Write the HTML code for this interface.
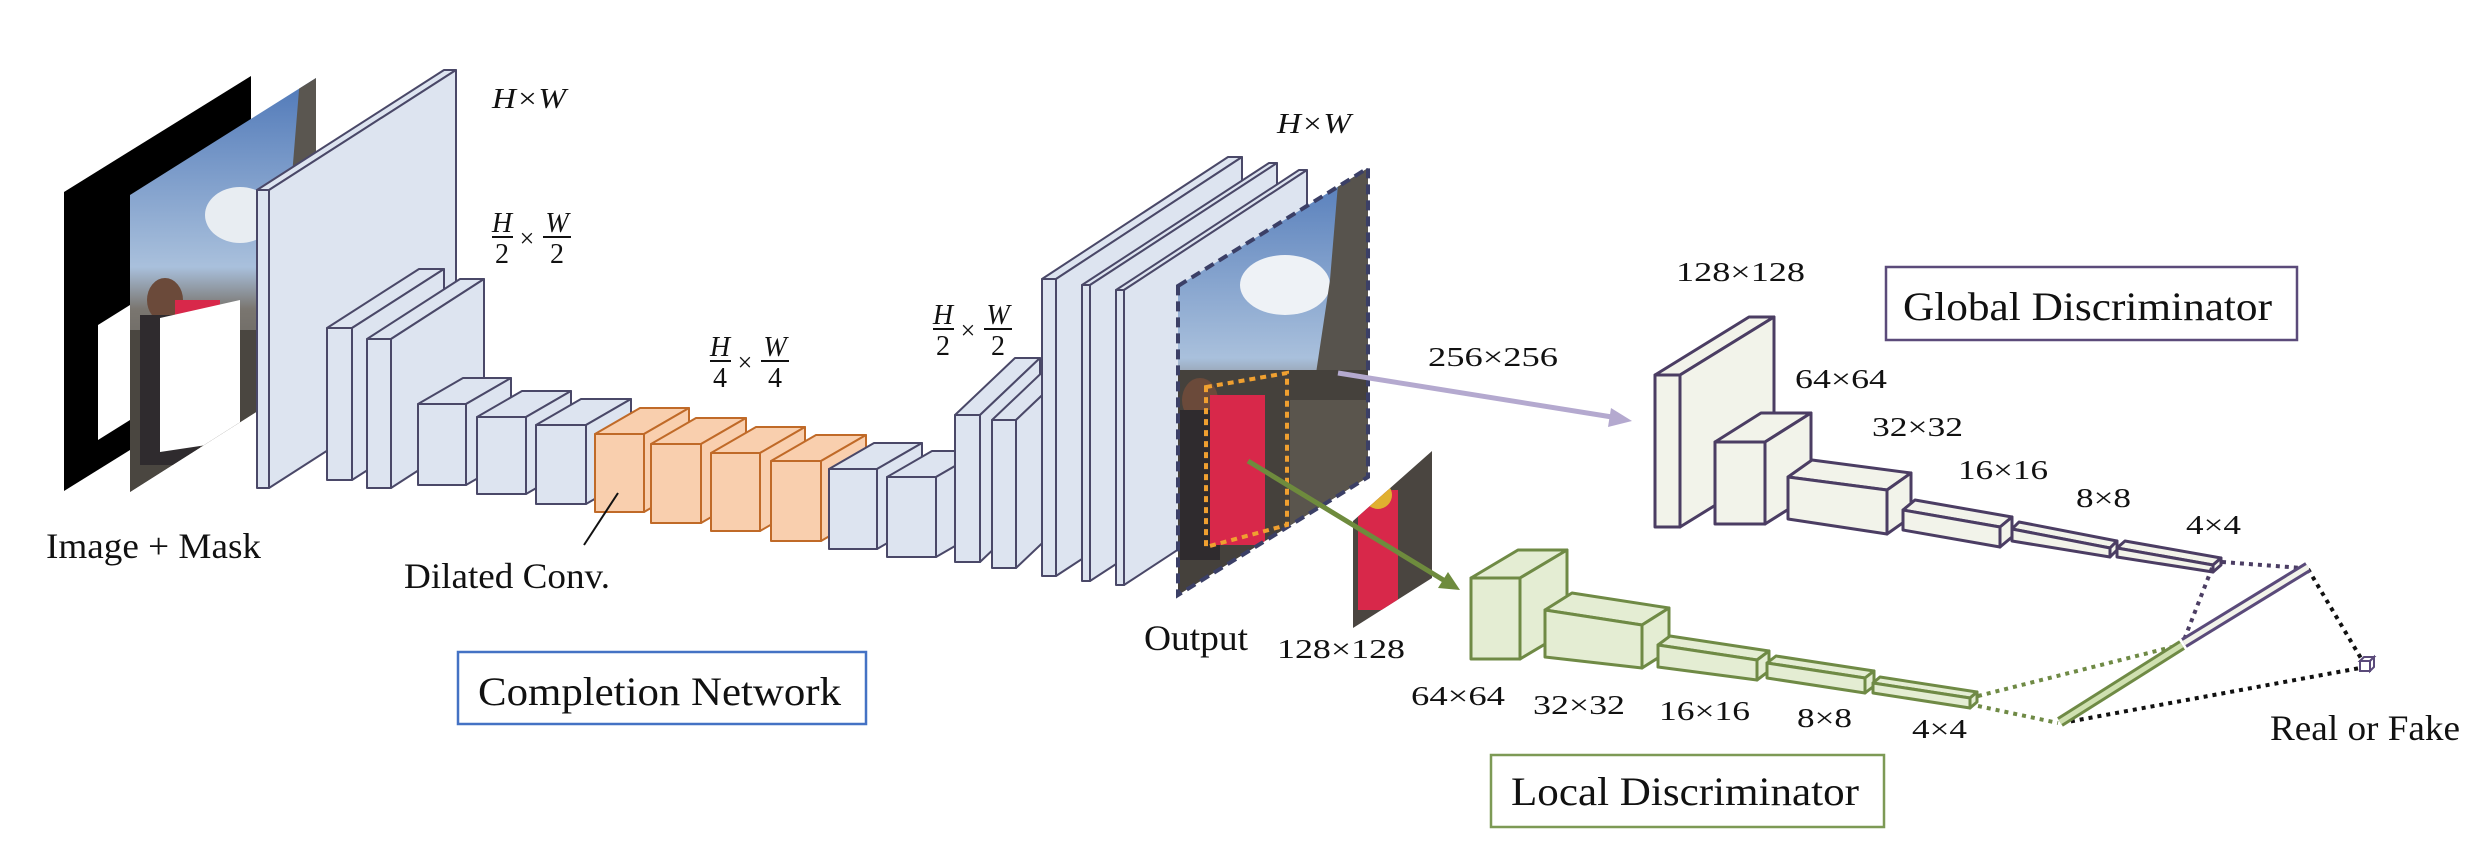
<!DOCTYPE html>
<html><head><meta charset="utf-8"><style>
html,body{margin:0;padding:0;background:#fff;}
svg{display:block;}
text{font-family:"Liberation Serif",serif;fill:#111;}
</style></head><body>
<svg width="2492" height="850" viewBox="0 0 2492 850" xmlns="http://www.w3.org/2000/svg">
<defs>
<linearGradient id="sky" x1="0" y1="0" x2="0" y2="1">
<stop offset="0" stop-color="#4f78b8"/><stop offset="0.45" stop-color="#a9c0dc"/><stop offset="0.55" stop-color="#7a7670"/><stop offset="1" stop-color="#3d3a36"/>
</linearGradient>
<clipPath id="p1"><polygon points="130,195 316,78 316,374 130,492"/></clipPath>
<clipPath id="p2"><polygon points="1178,286 1368,168 1368,477 1178,595"/></clipPath>
<clipPath id="p3"><polygon points="1353,521 1432,451 1432,578 1353,628"/></clipPath>
</defs>

<polygon points="64,192 251,76 251,375 64,491" fill="#000"/>
<polygon points="98,325 130,305 130,420 98,440" fill="#fff"/>
<g clip-path="url(#p1)">
<rect x="130" y="78" width="190" height="420" fill="url(#sky)"/>
<ellipse cx="240" cy="215" rx="35" ry="28" fill="#e8edf2"/>
<polygon points="300,78 316,78 316,380 270,380 290,200" fill="#5a5650"/>
<rect x="130" y="330" width="190" height="170" fill="#4a4640"/>
<ellipse cx="165" cy="300" rx="18" ry="22" fill="#6b4a3a"/>
<rect x="140" y="315" width="60" height="150" fill="#2f2b2e"/>
<rect x="175" y="300" width="45" height="110" fill="#d8284a"/>
<polygon points="160,318 240,300 240,440 160,452" fill="#fff"/>
</g>

<g stroke="#4a4868" stroke-width="2" fill="#dde4f0" stroke-linejoin="round">
<polygon points="257,190 444,70 456,70 269,190"/><polygon points="269,190 456,70 456,368 269,488"/><rect x="257" y="190" width="12" height="298"/>
<polygon points="327,328 419,269 444,269 352,328"/><polygon points="352,328 444,269 444,421 352,480"/><rect x="327" y="328" width="25" height="152"/>
<polygon points="367,339 460,279 484,279 391,339"/><polygon points="391,339 484,279 484,428 391,488"/><rect x="367" y="339" width="24" height="149"/>
<polygon points="418,404 463,378 511,378 466,404"/><polygon points="466,404 511,378 511,459 466,485"/><rect x="418" y="404" width="48" height="81"/>
<polygon points="477,417 522,391 571,391 526,417"/><polygon points="526,417 571,391 571,468 526,494"/><rect x="477" y="417" width="49" height="77"/>
<polygon points="536,425 581,399 631,399 586,425"/><polygon points="586,425 631,399 631,478 586,504"/><rect x="536" y="425" width="50" height="79"/>
</g>
<g stroke="#c06a28" stroke-width="2" fill="#f9cfae" stroke-linejoin="round">
<polygon points="595,434 640,408 689,408 644,434"/><polygon points="644,434 689,408 689,486 644,512"/><rect x="595" y="434" width="49" height="78"/>
<polygon points="651,444 696,418 746,418 701,444"/><polygon points="701,444 746,418 746,497 701,523"/><rect x="651" y="444" width="50" height="79"/>
<polygon points="711,453 756,427 805,427 760,453"/><polygon points="760,453 805,427 805,505 760,531"/><rect x="711" y="453" width="49" height="78"/>
<polygon points="771,461 816,435 866,435 821,461"/><polygon points="821,461 866,435 866,515 821,541"/><rect x="771" y="461" width="50" height="80"/>
</g>
<g stroke="#4a4868" stroke-width="2" fill="#dde4f0" stroke-linejoin="round">
<polygon points="829,469 874,443 922,443 877,469"/><polygon points="877,469 922,443 922,523 877,549"/><rect x="829" y="469" width="48" height="80"/>
<polygon points="887,477 932,451 981,451 936,477"/><polygon points="936,477 981,451 981,531 936,557"/><rect x="887" y="477" width="49" height="80"/>
<polygon points="955,415 1015,358 1040,358 980,415"/><polygon points="980,415 1040,358 1040,505 980,562"/><rect x="955" y="415" width="25" height="147"/>
<polygon points="992,420 1052,363 1076,363 1016,420"/><polygon points="1016,420 1076,363 1076,511 1016,568"/><rect x="992" y="420" width="24" height="148"/>
<polygon points="1042,279 1228,157 1242,157 1056,279"/><polygon points="1056,279 1242,157 1242,454 1056,576"/><rect x="1042" y="279" width="14" height="297"/>
<polygon points="1082,285 1269,163 1277,163 1090,285"/><polygon points="1090,285 1277,163 1277,459 1090,581"/><rect x="1082" y="285" width="8" height="296"/>
<polygon points="1116,290 1299,170 1307,170 1124,290"/><polygon points="1124,290 1307,170 1307,465 1124,585"/><rect x="1116" y="290" width="8" height="295"/>
</g>

<g clip-path="url(#p2)">
<rect x="1178" y="160" width="200" height="440" fill="url(#sky)"/>
<ellipse cx="1285" cy="285" rx="45" ry="30" fill="#eef2f6"/>
<polygon points="1340,160 1370,160 1370,480 1300,480 1330,280" fill="#57534d"/>
<rect x="1178" y="370" width="200" height="230" fill="#45413c"/>
<rect x="1290" y="400" width="80" height="200" fill="#5a554d"/>
<ellipse cx="1200" cy="400" rx="18" ry="22" fill="#6b4a3a"/>
<rect x="1180" y="410" width="40" height="150" fill="#2f2b2e"/>
<rect x="1210" y="395" width="55" height="150" fill="#d8284a"/>
</g>
<polygon points="1178,286 1368,168 1368,477 1178,595" fill="none" stroke="#3b3f66" stroke-width="4" stroke-dasharray="10 6"/>
<polygon points="1206,387 1287,373 1287,525 1206,547" fill="none" stroke="#f0a030" stroke-width="4" stroke-dasharray="6 5"/>

<g clip-path="url(#p3)">
<rect x="1353" y="450" width="80" height="180" fill="#4a4540"/>
<rect x="1358" y="490" width="40" height="120" fill="#d8284a"/>
<ellipse cx="1378" cy="495" rx="14" ry="14" fill="#e0b030"/>
</g>

<line x1="1338" y1="373" x2="1612" y2="417" stroke="#b4a9cf" stroke-width="5"/>
<polygon points="1632,421 1611,408 1608,427" fill="#b4a9cf"/>
<line x1="1248" y1="461" x2="1445" y2="581" stroke="#6e8b3d" stroke-width="5"/>
<polygon points="1460,590 1438,588 1448,572" fill="#6e8b3d"/>

<g stroke="#4b3d63" stroke-width="3" fill="#f2f3ea" stroke-linejoin="round">
<polygon points="1655,375 1749,317 1774,317 1680,375"/><polygon points="1680,375 1774,317 1774,469 1680,527"/><rect x="1655" y="375" width="25" height="152"/>
<polygon points="1715,442 1761,413 1811,413 1765,442"/><polygon points="1765,442 1811,413 1811,495 1765,524"/><rect x="1715" y="442" width="50" height="82"/>
<polygon points="1788,477 1812,460 1911,473 1887,490"/><polygon points="1887,490 1911,473 1911,517 1887,534"/><polygon points="1788,477 1887,490 1887,534 1788,519"/>
<polygon points="1903,510 1915,500 2012,517 2000,527"/><polygon points="2000,527 2012,517 2012,537 2000,547"/><polygon points="1903,510 2000,527 2000,547 1903,530"/>
<polygon points="2012,529 2019,522 2117,541 2110,548"/><polygon points="2110,548 2117,541 2117,550 2110,557"/><polygon points="2012,529 2110,548 2110,557 2012,541"/>
<polygon points="2117,548 2125,541 2221,558 2213,565"/><polygon points="2213,565 2221,558 2221,565 2213,572"/><polygon points="2117,548 2213,565 2213,572 2117,557"/>
</g>
<g stroke="#6f8a45" stroke-width="3" fill="#e4edd3" stroke-linejoin="round">
<polygon points="1471,578 1518,550 1567,550 1520,578"/><polygon points="1520,578 1567,550 1567,631 1520,659"/><rect x="1471" y="578" width="49" height="81"/>
<polygon points="1545,610 1572,593 1669,608 1642,625"/><polygon points="1642,625 1669,608 1669,651 1642,668"/><polygon points="1545,610 1642,625 1642,668 1545,657"/>
<polygon points="1658,645 1670,636 1769,651 1757,660"/><polygon points="1757,660 1769,651 1769,671 1757,680"/><polygon points="1658,645 1757,660 1757,680 1658,667"/>
<polygon points="1767,663 1776,656 1874,671 1865,678"/><polygon points="1865,678 1874,671 1874,686 1865,693"/><polygon points="1767,663 1865,678 1865,693 1767,678"/>
<polygon points="1873,683 1880,677 1977,692 1970,698"/><polygon points="1970,698 1977,692 1977,702 1970,708"/><polygon points="1873,683 1970,698 1970,708 1873,693"/>
</g>

<g stroke-width="4" stroke-dasharray="4 5" fill="none">
<line x1="2222" y1="562" x2="2302" y2="568" stroke="#4b3d63"/>
<line x1="2212" y1="568" x2="2184" y2="640" stroke="#4b3d63"/>
<line x1="1978" y1="696" x2="2180" y2="645" stroke="#6f8a45"/>
<line x1="1978" y1="706" x2="2058" y2="723" stroke="#6f8a45"/>
<line x1="2308" y1="569" x2="2362" y2="660" stroke="#111"/>
<line x1="2062" y1="723" x2="2360" y2="668" stroke="#111"/>
</g>
<line x1="2184" y1="643" x2="2308" y2="567" stroke="#5a4a7a" stroke-width="11"/>
<line x1="2184" y1="643" x2="2308" y2="567" stroke="#f2f3ea" stroke-width="5"/>
<line x1="2060" y1="722" x2="2182" y2="645" stroke="#6f8a45" stroke-width="11"/>
<line x1="2060" y1="722" x2="2182" y2="645" stroke="#cfe0b0" stroke-width="5"/>
<g stroke="#5a4a7a" stroke-width="2" fill="#fff">
<polygon points="2360,661 2364,657 2374,657 2370,661"/><polygon points="2370,661 2374,657 2374,667 2370,671"/><rect x="2360" y="661" width="10" height="10"/>
</g>

<rect x="458" y="652" width="408" height="72" fill="none" stroke="#4472c4" stroke-width="2.5"/>
<rect x="1886" y="267" width="411" height="73" fill="none" stroke="#5b4b7a" stroke-width="2.5"/>
<rect x="1491" y="755" width="393" height="72" fill="none" stroke="#7d9a55" stroke-width="2.5"/>

<g font-size="40">
<text x="478" y="705" textLength="363" lengthAdjust="spacingAndGlyphs">Completion Network</text>
<text x="1903" y="320" textLength="369" lengthAdjust="spacingAndGlyphs">Global Discriminator</text>
<text x="1511" y="805" textLength="348" lengthAdjust="spacingAndGlyphs">Local Discriminator</text>
</g>
<g font-size="36">
<text x="46" y="558" textLength="215" lengthAdjust="spacingAndGlyphs">Image + Mask</text>
<text x="404" y="588" textLength="206" lengthAdjust="spacingAndGlyphs">Dilated Conv.</text>
<text x="1144" y="650" textLength="104" lengthAdjust="spacingAndGlyphs">Output</text>
<text x="2270" y="740" textLength="190" lengthAdjust="spacingAndGlyphs">Real or Fake</text>
</g>
<line x1="618" y1="493" x2="584" y2="545" stroke="#111" stroke-width="2"/>
<g font-size="27">
<text x="1676" y="281" textLength="129" lengthAdjust="spacingAndGlyphs">128×128</text>
<text x="1795" y="388" textLength="92" lengthAdjust="spacingAndGlyphs">64×64</text>
<text x="1872" y="436" textLength="91" lengthAdjust="spacingAndGlyphs">32×32</text>
<text x="1958" y="479" textLength="90" lengthAdjust="spacingAndGlyphs">16×16</text>
<text x="2076" y="507" textLength="55" lengthAdjust="spacingAndGlyphs">8×8</text>
<text x="2186" y="534" textLength="55" lengthAdjust="spacingAndGlyphs">4×4</text>
<text x="1428" y="366" textLength="130" lengthAdjust="spacingAndGlyphs">256×256</text>
<text x="1277" y="658" textLength="128" lengthAdjust="spacingAndGlyphs">128×128</text>
<text x="1411" y="705" textLength="94" lengthAdjust="spacingAndGlyphs">64×64</text>
<text x="1533" y="714" textLength="92" lengthAdjust="spacingAndGlyphs">32×32</text>
<text x="1659" y="720" textLength="91" lengthAdjust="spacingAndGlyphs">16×16</text>
<text x="1797" y="727" textLength="55" lengthAdjust="spacingAndGlyphs">8×8</text>
<text x="1912" y="738" textLength="55" lengthAdjust="spacingAndGlyphs">4×4</text>
</g>
<g font-size="28" font-style="italic">
<text x="492" y="108" textLength="74" lengthAdjust="spacingAndGlyphs">H×W</text>
<text x="1277" y="133" textLength="74" lengthAdjust="spacingAndGlyphs">H×W</text>
</g>
<g>
<text x="502" y="232" font-size="28" font-style="italic" text-anchor="middle">H</text>
<line x1="492" y1="237" x2="513" y2="237" stroke="#111" stroke-width="2"/>
<text x="502" y="263" font-size="28" text-anchor="middle">2</text>
<text x="527" y="247" font-size="26" text-anchor="middle">×</text>
<text x="557" y="232" font-size="28" font-style="italic" text-anchor="middle">W</text>
<line x1="543" y1="237" x2="571" y2="237" stroke="#111" stroke-width="2"/>
<text x="557" y="263" font-size="28" text-anchor="middle">2</text>
</g>
<g transform="translate(218,124)">
<text x="502" y="232" font-size="28" font-style="italic" text-anchor="middle">H</text>
<line x1="492" y1="237" x2="513" y2="237" stroke="#111" stroke-width="2"/>
<text x="502" y="263" font-size="28" text-anchor="middle">4</text>
<text x="527" y="247" font-size="26" text-anchor="middle">×</text>
<text x="557" y="232" font-size="28" font-style="italic" text-anchor="middle">W</text>
<line x1="543" y1="237" x2="571" y2="237" stroke="#111" stroke-width="2"/>
<text x="557" y="263" font-size="28" text-anchor="middle">4</text>
</g>
<g transform="translate(441,92)">
<text x="502" y="232" font-size="28" font-style="italic" text-anchor="middle">H</text>
<line x1="492" y1="237" x2="513" y2="237" stroke="#111" stroke-width="2"/>
<text x="502" y="263" font-size="28" text-anchor="middle">2</text>
<text x="527" y="247" font-size="26" text-anchor="middle">×</text>
<text x="557" y="232" font-size="28" font-style="italic" text-anchor="middle">W</text>
<line x1="543" y1="237" x2="571" y2="237" stroke="#111" stroke-width="2"/>
<text x="557" y="263" font-size="28" text-anchor="middle">2</text>
</g>
</svg>
</body></html>
